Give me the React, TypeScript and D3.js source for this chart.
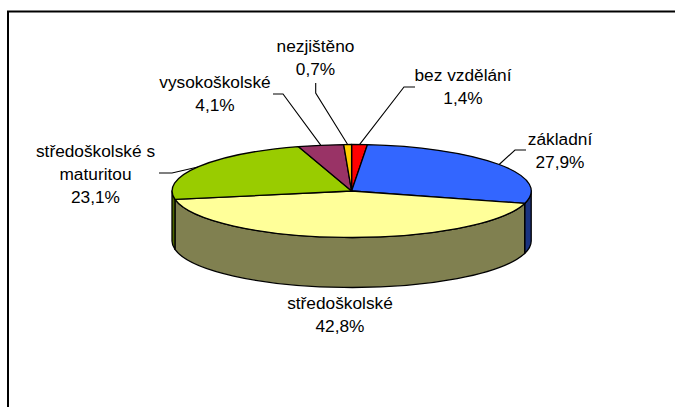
import React from 'react';
import * as d3 from 'd3';

// hodnoty z grafu (podil v %)
const categories = ['bez vzdělání', 'základní', 'středoškolské', 'středoškolské s maturitou', 'vysokoškolské', 'nezjištěno'];
const values = [1.4, 27.9, 42.8, 23.1, 4.1, 0.7];
const valueLabels = ['1,4%', '27,9%', '42,8%', '23,1%', '4,1%', '0,7%'];

const topColors = ['#ff0000', '#3366ff', '#ffff99', '#99cc00', '#993366', '#ffcc00'];
const sideColors = ['#800000', '#1a3380', '#808050', '#4d6600', '#4d1a33', '#806600'];

// rozlozeni popisku: radky textu, stred, prvni radek, koleno odkazove cary
const labelLines = [['bez vzdělání'], ['základní'], ['středoškolské'], ['středoškolské s', 'maturitou'], ['vysokoškolské'], ['nezjištěno']];
const labelX = [463, 560, 340, 95.5, 215, 315.5];
const labelY = [81, 145, 309, 157, 88, 52];
const leaderStart: ([number, number] | null)[] = [[415, 87], [526, 150], null, [159, 173], [273, 94], [315.7, 83]];
const leaderKnee: ([number, number] | null)[] = [[404, 87], [515, 150], null, [172, 173], [283, 94], [315.7, 93]];

const width = 675;
const height = 407;
const cx = 351.6;
const cy = 191;
const rx = 179.6;
const ry = 46.5;
const depth = 50;
const lineStep = 23;

const xScale = d3.scaleLinear().domain([-1, 1]).range([cx - rx, cx + rx]);
const yScale = d3.scaleLinear().domain([-1, 1]).range([cy + ry, cy - ry]);
const px = (a: number) => xScale(Math.sin(a));
const py = (a: number) => yScale(Math.cos(a));

const pie = d3.pie<number>().sort(null).value(d => d);
const arcs = pie(values);
const arcGen = d3.arc<d3.PieArcDatum<number>>().innerRadius(0).outerRadius(1);

// bocni stena - jen viditelna predni cast elipsy
function wallPath(a0: number, a1: number) {
  const start = Math.max(a0, Math.PI / 2);
  const end = Math.min(a1, Math.PI * 1.5);
  if (end <= start) return null;
  return `M${px(start)},${py(start)}A${rx},${ry} 0 0 1 ${px(end)},${py(end)}` +
    `L${px(end)},${py(end) + depth}A${rx},${ry} 0 0 0 ${px(start)},${py(start) + depth}Z`;
}

export default function App() {
  return (
    <svg width={width} height={height} style={{ position: 'absolute', left: 0, top: 0, display: 'block', background: '#fff' }}>
      <path d={`M8,${height}V11.5H${width}`} fill="none" stroke="#000" strokeWidth={2} />

      {arcs.map((d, i) => {
        const p = wallPath(d.startAngle, d.endAngle);
        return p && <path key={i} d={p} fill={sideColors[i]} stroke="#000" strokeWidth={1.3} strokeLinejoin="round" />;
      })}

      <g transform={`translate(${cx},${cy}) scale(${rx},${ry})`}>
        {arcs.map((d, i) => (
          <path key={i} d={arcGen(d) as string} fill={topColors[i]} stroke="#000" strokeWidth={1.3}
            strokeLinejoin="round" vectorEffect="non-scaling-stroke" />
        ))}
      </g>

      {arcs.map((d, i) => {
        const start = leaderStart[i];
        const knee = leaderKnee[i];
        if (!start || !knee) return null;
        const mid = (d.startAngle + d.endAngle) / 2;
        return (
          <polyline key={i} points={`${start} ${knee} ${px(mid)},${py(mid)}`} fill="none" stroke="#000" strokeWidth={1.1} />
        );
      })}

      <g fontFamily="'Liberation Sans', Arial, sans-serif" fontSize={17.3} fill="#000" textAnchor="middle">
        {categories.map((c, i) => {
          const rows = [...labelLines[i], valueLabels[i]];
          return (
            <text key={c} x={labelX[i]} y={labelY[i]}>
              {rows.map((r, j) => (
                <tspan key={j} x={labelX[i]} y={labelY[i] + j * lineStep}>{r}</tspan>
              ))}
            </text>
          );
        })}
      </g>
    </svg>
  );
}
